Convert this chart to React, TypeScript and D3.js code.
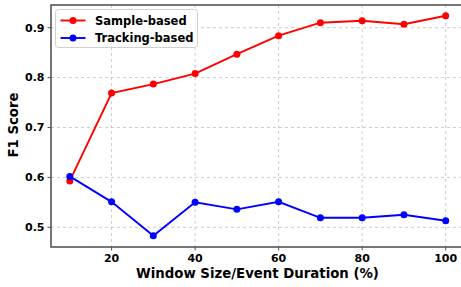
import * as d3 from 'd3';

const windowPct = [10, 20, 30, 40, 50, 60, 70, 80, 90, 100];
const sampleBased = [0.593, 0.769, 0.787, 0.808, 0.847, 0.884, 0.910, 0.914, 0.907, 0.924];
const trackingBased = [0.602, 0.551, 0.483, 0.550, 0.536, 0.551, 0.519, 0.519, 0.525, 0.513];
const xTicks = [20, 40, 60, 80, 100];
const yTicks = [0.5, 0.6, 0.7, 0.8, 0.9];

const SERIES = [
  { name: 'Sample-based', values: sampleBased, color: '#ff0000' },
  { name: 'Tracking-based', values: trackingBased, color: '#0000ff' },
];

const W = 461;
const H = 287;
const M = { left: 51, top: 5, right: 464.5, bottom: 247 };
const FONT = 'DejaVu Sans, sans-serif';

export default function App() {
  const x = d3.scaleLinear().domain([5.5, 104.5]).range([M.left, M.right]);
  const y = d3.scaleLinear().domain([0.4605, 0.9455]).range([M.bottom, M.top]);

  const line = d3.line<number>()
    .x((_, i) => x(windowPct[i]))
    .y((v) => y(v));

  return (
    <svg width={W} height={H} style={{ position: 'absolute', left: 0, top: 0, fontFamily: FONT }}>
      <rect width={W} height={H} fill="#fff" />
      {/* Grid */}
      {xTicks.map((t) => (
        <line key={'gx' + t} x1={x(t)} x2={x(t)} y1={M.top} y2={M.bottom}
          stroke="#b0b0b0" strokeWidth={0.8} strokeDasharray="3,3" opacity={0.8} />
      ))}
      {yTicks.map((t) => (
        <line key={'gy' + t} x1={M.left} x2={M.right} y1={y(t)} y2={y(t)}
          stroke="#b0b0b0" strokeWidth={0.8} strokeDasharray="3,3" opacity={0.8} />
      ))}

      {/* Series */}
      {SERIES.map((s) => (
        <g key={s.name}>
          <path d={line(s.values) ?? ''} fill="none" stroke={s.color} strokeWidth={1.9} />
          {s.values.map((v, i) => (
            <circle key={i} cx={x(windowPct[i])} cy={y(v)} r={3.5} fill={s.color} />
          ))}
        </g>
      ))}

      {/* Spines */}
      <rect x={M.left} y={M.top} width={M.right - M.left} height={M.bottom - M.top}
        fill="none" stroke="#555" strokeWidth={1.6} />

      {/* X ticks */}
      {xTicks.map((t) => (
        <g key={'xt' + t}>
          <line x1={x(t)} x2={x(t)} y1={M.bottom} y2={M.bottom + 3.5} stroke="#555" strokeWidth={1} />
          <text x={x(t)} y={M.bottom + 15} textAnchor="middle" fontSize={11} fontWeight="bold" fill="#000">{t}</text>
        </g>
      ))}
      {/* Y ticks */}
      {yTicks.map((t) => (
        <g key={'yt' + t}>
          <line x1={M.left - 3.5} x2={M.left} y1={y(t)} y2={y(t)} stroke="#555" strokeWidth={1} />
          <text x={M.left - 6.5} y={y(t)} dy="0.35em" textAnchor="end" fontSize={11} fontWeight="bold" fill="#000">{t.toFixed(1)}</text>
        </g>
      ))}

      {/* Axis labels */}
      <text x={257.5} y={277.5} textAnchor="middle" fontSize={13.3} fontWeight="bold" fill="#000">
        Window Size/Event Duration (%)
      </text>
      <text transform={`translate(18,${(M.top + M.bottom) / 2 - 1}) rotate(-90)`} textAnchor="middle"
        fontSize={13.3} fontWeight="bold" fill="#000">F1 Score</text>

      {/* Legend */}
      <rect x={55.5} y={9.5} width={142} height={38} rx={3} fill="#fff" fillOpacity={0.8} stroke="#d0d0d0" strokeWidth={1} />
      {SERIES.map((s, i) => {
        const ly = 20.5 + i * 17.5;
        return (
          <g key={'lg' + s.name}>
            <line x1={60.5} x2={85.5} y1={ly} y2={ly} stroke={s.color} strokeWidth={1.9} />
            <circle cx={73} cy={ly} r={3.5} fill={s.color} />
            <text x={95} y={ly} dy="0.35em" fontSize={11.5} fontWeight="bold" fill="#000">{s.name}</text>
          </g>
        );
      })}
    </svg>
  );
}
